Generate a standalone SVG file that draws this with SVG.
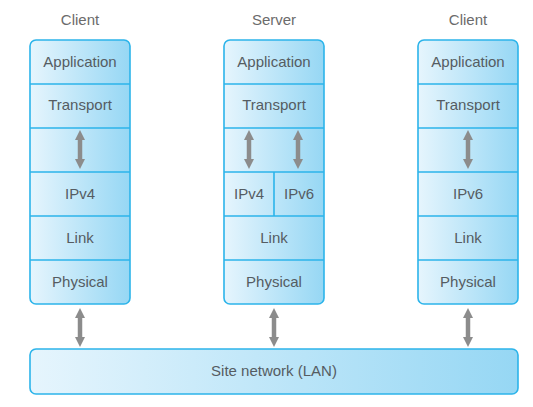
<svg xmlns="http://www.w3.org/2000/svg" width="533" height="407" viewBox="0 0 533 407">
<style>
.box{fill:url(#g);stroke:#2cb4ea;stroke-width:1.6}
.div{stroke:#2cb4ea;stroke-width:1.6;fill:none}
.t{font-family:"Liberation Sans",Arial,sans-serif;font-size:15px;fill:#555c62;text-anchor:middle}
.h{font-family:"Liberation Sans",Arial,sans-serif;font-size:15px;fill:#6b6b6b;text-anchor:middle}
.ar{stroke:#8c8c8c;stroke-width:4.5;fill:none;marker-start:url(#m);marker-end:url(#m)}
</style>
<defs>
<linearGradient id="g" x1="0" y1="0" x2="1" y2="0">
<stop offset="0" stop-color="#e6f5fd"/>
<stop offset="1" stop-color="#96d7f4"/>
</linearGradient>
<marker id="m" markerUnits="userSpaceOnUse" markerWidth="10" markerHeight="10" refX="0" refY="5" orient="auto-start-reverse" viewBox="0 0 10 10">
<path d="M0,0 L10,5 L0,10 z" fill="#8c8c8c"/>
</marker>
</defs>
<g id="client-left">
<text class="h" x="80" y="25">Client</text>
<rect class="box" x="30" y="40" width="100" height="264" rx="6"/>
<path class="div" d="M30,84H130M30,128H130M30,172H130M30,216H130M30,260H130"/>
<text class="t" x="80" y="67">Application</text>
<text class="t" x="80" y="110">Transport</text>
<text class="t" x="80" y="199">IPv4</text>
<text class="t" x="80" y="243">Link</text>
<text class="t" x="80" y="287">Physical</text>
</g>
<g id="server">
<text class="h" x="274" y="25">Server</text>
<rect class="box" x="224" y="40" width="100" height="264" rx="6"/>
<path class="div" d="M224,84H324M224,128H324M224,172H324M224,216H324M224,260H324M274,172V216"/>
<text class="t" x="274" y="67">Application</text>
<text class="t" x="274" y="110">Transport</text>
<text class="t" x="249" y="199">IPv4</text>
<text class="t" x="299" y="199">IPv6</text>
<text class="t" x="274" y="243">Link</text>
<text class="t" x="274" y="287">Physical</text>
</g>
<g id="client-right">
<text class="h" x="468" y="25">Client</text>
<rect class="box" x="418" y="40" width="100" height="264" rx="6"/>
<path class="div" d="M418,84H518M418,128H518M418,172H518M418,216H518M418,260H518"/>
<text class="t" x="468" y="67">Application</text>
<text class="t" x="468" y="110">Transport</text>
<text class="t" x="468" y="199">IPv6</text>
<text class="t" x="468" y="243">Link</text>
<text class="t" x="468" y="287">Physical</text>
</g>
<g id="lan">
<rect class="box" x="30" y="349" width="488" height="45" rx="6"/>
<text class="t" x="274" y="376">Site network (LAN)</text>
</g>
<g id="connectors">
<line class="ar" x1="80" y1="140" x2="80" y2="159"/>
<line class="ar" x1="249" y1="140" x2="249" y2="159"/>
<line class="ar" x1="298" y1="140" x2="298" y2="159"/>
<line class="ar" x1="468" y1="140" x2="468" y2="159"/>
<line class="ar" x1="80" y1="318" x2="80" y2="337"/>
<line class="ar" x1="274" y1="318" x2="274" y2="337"/>
<line class="ar" x1="468" y1="318" x2="468" y2="337"/>
</g>
</svg>
